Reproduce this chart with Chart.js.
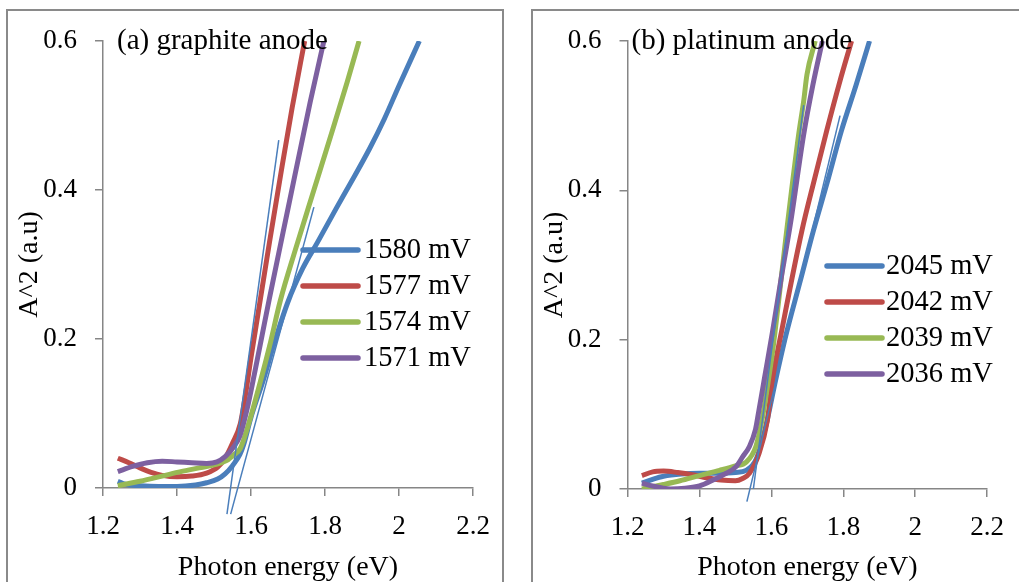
<!DOCTYPE html>
<html>
<head>
<meta charset="utf-8">
<script src="https://cdn.jsdelivr.net/npm/chart.js@4"></script>
<style>
  html, body { margin: 0; padding: 0; background: #fff; overflow: hidden; }
  .frame { position: absolute; border: 2px solid #8a8a8a; }
  canvas { position: absolute; top: 0; }
</style>
</head>
<body>
<div class="frame" style="left:6px; top:9px; width:494px; height:600px;"></div>
<div class="frame" style="left:531px; top:9px; width:600px; height:600px;"></div>
<canvas id="chartA" width="510" height="600" style="left:0"></canvas>
<canvas id="chartB" width="509" height="600" style="left:510px"></canvas>
<script>
// axis ranges
const xMin = 1.2, xMax = 2.2, xStep = 0.2;
const yMin = 0, yMax = 0.6, yStep = 0.2;

const seriesColors = ["#4a7ebb", "#be4b48", "#98b954", "#7d60a0"];

// (a) graphite anode
const graphiteNames = ["1580 mV", "1577 mV", "1574 mV", "1571 mV"];
const g1580X = [1.24, 1.26, 1.30, 1.35, 1.40, 1.45, 1.48, 1.51, 1.53, 1.55, 1.57, 1.58, 1.60, 1.634, 1.66, 1.70, 1.74, 1.78, 1.83, 1.87, 1.92, 1.96, 2.00, 2.055];
const g1580Y = [0.009, 0.005, 0.003, 0.002, 0.002, 0.004, 0.007, 0.012, 0.019, 0.030, 0.045, 0.058, 0.095, 0.146, 0.190, 0.250, 0.295, 0.330, 0.375, 0.410, 0.455, 0.495, 0.540, 0.600];
const g1577X = [1.24, 1.27, 1.30, 1.33, 1.36, 1.40, 1.44, 1.48, 1.51, 1.53, 1.55, 1.571, 1.585, 1.60, 1.621, 1.65, 1.68, 1.711, 1.745];
const g1577Y = [0.040, 0.034, 0.027, 0.021, 0.017, 0.015, 0.016, 0.020, 0.028, 0.040, 0.060, 0.086, 0.125, 0.175, 0.240, 0.330, 0.420, 0.510, 0.600];
const g1574X = [1.24, 1.30, 1.36, 1.41, 1.46, 1.50, 1.535, 1.555, 1.571, 1.59, 1.626, 1.65, 1.679, 1.72, 1.77, 1.82, 1.86, 1.892];
const g1574Y = [0.003, 0.009, 0.016, 0.022, 0.027, 0.031, 0.037, 0.045, 0.053, 0.080, 0.144, 0.190, 0.251, 0.320, 0.400, 0.480, 0.545, 0.600];
const g1571X = [1.24, 1.28, 1.32, 1.36, 1.40, 1.44, 1.48, 1.508, 1.53, 1.553, 1.57, 1.589, 1.61, 1.63, 1.65, 1.70, 1.76, 1.797];
const g1571Y = [0.022, 0.029, 0.034, 0.036, 0.035, 0.034, 0.033, 0.035, 0.042, 0.055, 0.070, 0.105, 0.155, 0.205, 0.255, 0.375, 0.518, 0.600];
// thin fitted lines
const gFit1X = [1.535, 1.675], gFit1Y = [-0.035, 0.467];
const gFit2X = [1.545, 1.770], gFit2Y = [-0.035, 0.377];

// (b) platinum anode
const platinumNames = ["2045 mV", "2042 mV", "2039 mV", "2036 mV"];
const p2045X = [1.24, 1.27, 1.30, 1.35, 1.40, 1.45, 1.50, 1.53, 1.557, 1.585, 1.612, 1.64, 1.68, 1.717, 1.755, 1.795, 1.835, 1.873];
const p2045Y = [0.008, 0.013, 0.017, 0.020, 0.021, 0.021, 0.022, 0.025, 0.039, 0.085, 0.146, 0.205, 0.278, 0.346, 0.410, 0.480, 0.540, 0.600];
const p2042X = [1.24, 1.27, 1.30, 1.34, 1.38, 1.42, 1.46, 1.50, 1.52, 1.539, 1.566, 1.589, 1.603, 1.63, 1.685, 1.72, 1.754, 1.79, 1.823];
const p2042Y = [0.018, 0.023, 0.024, 0.022, 0.019, 0.015, 0.012, 0.011, 0.014, 0.021, 0.048, 0.092, 0.146, 0.215, 0.346, 0.415, 0.480, 0.545, 0.600];
const p2039X = [1.24, 1.30, 1.346, 1.40, 1.456, 1.50, 1.53, 1.557, 1.575, 1.59, 1.605, 1.621, 1.64, 1.676, 1.69, 1.699, 1.722];
const p2039Y = [0.000, 0.006, 0.011, 0.018, 0.025, 0.031, 0.036, 0.057, 0.095, 0.140, 0.190, 0.255, 0.335, 0.475, 0.520, 0.555, 0.600];
const p2036X = [1.24, 1.27, 1.30, 1.32, 1.36, 1.40, 1.438, 1.47, 1.502, 1.52, 1.539, 1.556, 1.566, 1.58, 1.603, 1.63, 1.653, 1.69, 1.715, 1.742];
const p2036Y = [0.008, 0.004, 0.001, 0.000, 0.001, 0.004, 0.012, 0.020, 0.030, 0.043, 0.057, 0.080, 0.107, 0.146, 0.210, 0.290, 0.355, 0.475, 0.540, 0.600];
const pFit1X = [1.532, 1.791], pFit1Y = [-0.017, 0.500];
const pFit2X = [1.550, 1.690], pFit2Y = [0.000, 0.514];

const axisColor = "#868686";
const serif = "'Liberation Serif', 'Times New Roman', serif";

function pts(xs, ys) {
  return xs.map((x, i) => ({ x: x, y: ys[i] }));
}

// panel label + legend drawn on top of the plot
const panelText = {
  id: "panelText",
  afterDraw(chart, args, opts) {
    const ctx = chart.ctx;
    ctx.save();
    ctx.fillStyle = "#000";
    ctx.textBaseline = "middle";
    ctx.font = "29px " + serif;
    ctx.fillText(opts.label, opts.labelX, opts.labelY);
    ctx.font = "28.5px " + serif;
    opts.names.forEach((name, i) => {
      const y = opts.rows[i];
      ctx.strokeStyle = seriesColors[i];
      ctx.lineWidth = 5.5;
      ctx.lineCap = "round";
      ctx.beginPath();
      ctx.moveTo(opts.lx1, y);
      ctx.lineTo(opts.lx2, y);
      ctx.stroke();
      ctx.fillText(name, opts.tx, y + 1);
    });
    ctx.restore();
  },
};

function makePanel(id, names, series, fits, geo) {
  const datasets = [];
  series.forEach((s, i) => {
    datasets.push({
      label: names[i],
      data: pts(s[0], s[1]),
      borderColor: seriesColors[i],
      borderWidth: 5,
      pointRadius: 0,
      cubicInterpolationMode: "monotone",
      order: 4 - i,
    });
  });
  fits.forEach((f) => {
    datasets.push({
      label: "fit",
      data: pts(f[0], f[1]),
      borderColor: seriesColors[0],
      borderWidth: 1.5,
      pointRadius: 0,
      clip: false,
      order: 0,
    });
  });

  return new Chart(document.getElementById(id), {
    type: "line",
    data: { datasets: datasets },
    plugins: [panelText],
    options: {
      responsive: false,
      animation: false,
      layout: { padding: { left: 0, top: geo.top, right: geo.right, bottom: 0 } },
      plugins: {
        legend: { display: false },
        tooltip: { enabled: false },
        panelText: geo.text,
      },
      scales: {
        x: {
          type: "linear",
          min: xMin,
          max: xMax,
          afterFit: (scale) => { scale.height = geo.xHeight; },
          grid: { drawOnChartArea: false, drawTicks: true, tickLength: 8, color: axisColor, lineWidth: 1.5 },
          border: { color: axisColor, width: 1.5 },
          ticks: {
            stepSize: xStep,
            autoSkip: false,
            maxRotation: 0,
            padding: 15,
            color: "#000",
            font: { family: serif, size: 27 },
            callback: (v) => String(+v.toFixed(1)),
          },
          title: {
            display: true,
            text: "Photon energy (eV)",
            color: "#000",
            font: { family: serif, size: 28 },
            padding: { top: 0, bottom: 16 },
          },
        },
        y: {
          min: yMin,
          max: yMax,
          afterFit: (scale) => { scale.width = geo.yWidth; },
          grid: { drawOnChartArea: false, drawTicks: true, tickLength: 8, color: axisColor, lineWidth: 1.5 },
          border: { color: axisColor, width: 1.5 },
          ticks: {
            stepSize: yStep,
            padding: 18,
            color: "#000",
            font: { family: serif, size: 27 },
            callback: (v) => String(+v.toFixed(1)),
          },
          title: {
            display: true,
            text: "A^2 (a.u)",
            color: "#000",
            font: { family: serif, size: 28 },
            padding: { top: geo.yTitlePad, bottom: 0 },
          },
        },
      },
    },
  });
}

makePanel("chartA", graphiteNames,
  [[g1580X, g1580Y], [g1577X, g1577Y], [g1574X, g1574Y], [g1571X, g1571Y]],
  [[gFit1X, gFit1Y], [gFit2X, gFit2Y]],
  {
    top: 41, right: 37, yWidth: 103, xHeight: 112, yTitlePad: 13,
    text: { label: "(a) graphite anode", labelX: 117, labelY: 41, names: graphiteNames,
            lx1: 303, lx2: 358, tx: 364, rows: [250, 286, 322, 358] },
  });

makePanel("chartB", platinumNames,
  [[p2045X, p2045Y], [p2042X, p2042Y], [p2039X, p2039Y], [p2036X, p2036Y]],
  [[pFit1X, pFit1Y], [pFit2X, pFit2Y]],
  {
    top: 41, right: 28.5, yWidth: 117.5, xHeight: 111, yTitlePad: 28,
    text: { label: "(b) platinum anode", labelX: 121.5, labelY: 41, names: platinumNames,
            lx1: 317, lx2: 372, tx: 376, rows: [266, 302, 338, 374] },
  });
</script>
</body>
</html>
